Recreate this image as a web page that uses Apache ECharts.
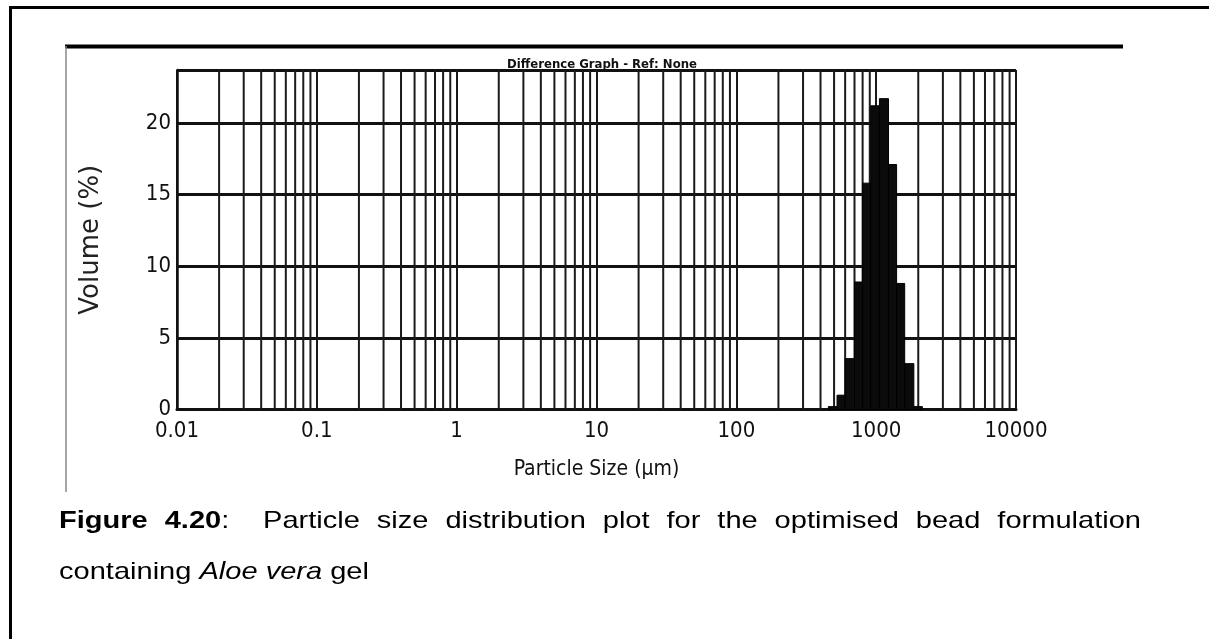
<!DOCTYPE html>
<html><head><meta charset="utf-8">
<script src="https://cdn.jsdelivr.net/npm/echarts@6/dist/echarts.min.js"></script>
<style>html,body{margin:0;padding:0;background:#fff}#c{width:1209px;height:639px}</style>
</head><body><div id="c"></div>
<script>
// ---- data ----
const binEdges = [455, 525, 600, 700, 800, 915, 1055, 1225, 1400, 1600, 1860, 2140]; // µm
const volumes  = [0.2, 1.0, 3.55, 8.9, 15.8, 21.2, 21.7, 17.1, 8.8, 3.2, 0.2];       // %
const xDecades = [0.01, 0.1, 1, 10, 100, 1000, 10000];
const xTickLabels = ['0.01', '0.1', '1', '10', '100', '1000', '10000'];
const yTicks = [0, 5, 10, 15, 20];
const yMax = 23.7;
const chartTitle = 'Difference Graph - Ref: None';
const xName = 'Particle Size (µm)';
const yName = 'Volume (%)';
const captionLine1 = [['Figure','bold',1],['4.20','bold',0],[':','normal',2],['Particle','normal',1],['size','normal',1],['distribution','normal',1],['plot','normal',1],['for','normal',1],['the','normal',1],['optimised','normal',1],['bead','normal',1],['formulation','normal',0]];
const captionLine2 = [['containing','normal',1],['Aloe vera','italic',1],['gel','normal',0]];

// minor grid positions (2..9 within each decade)
const minorGrid = [];
xDecades.slice(0, -1).forEach(d => { for (let m = 2; m <= 9; m++) minorGrid.push(+(d * m).toPrecision(6)); });

const histData = volumes.map((v, i) => [binEdges[i], binEdges[i + 1], v]);

// ---- caption layout ----
const SX = 1.21, CAP_FS = 24, CAP_FONT = '"Liberation Sans", Arial, sans-serif';
const ctx = document.createElement('canvas').getContext('2d');
function fontStr(kind) {
  return (kind === 'bold' ? 'bold ' : kind === 'italic' ? 'italic ' : '') + CAP_FS + 'px ' + CAP_FONT;
}
function layoutLine(tokens, x0, x1, y, justify) {
  ctx.font = fontStr('normal');
  const spaceW = ctx.measureText(' ').width * SX;
  const widths = tokens.map(t => { ctx.font = fontStr(t[1]); return ctx.measureText(t[0]).width * SX; });
  const units = tokens.reduce((s, t) => s + t[2], 0);
  const unitW = justify ? (x1 - x0 - widths.reduce((a, b) => a + b, 0)) / units : spaceW;
  const els = [];
  let x = x0;
  tokens.forEach((t, i) => {
    els.push({
      type: 'text', x: x, y: y, scaleX: SX, scaleY: 1, silent: true,
      style: { text: t[0], x: 0, y: 0, fill: '#000', align: 'left', verticalAlign: 'middle',
        fontFamily: CAP_FONT, fontSize: CAP_FS,
        fontWeight: t[1] === 'bold' ? 'bold' : 'normal',
        fontStyle: t[1] === 'italic' ? 'italic' : 'normal' }
    });
    x += widths[i] + t[2] * unitW;
  });
  return els;
}

const chart = echarts.init(document.getElementById('c'), null, { renderer: 'canvas' });
const axisFont = '"Liberation Sans Narrow", "DejaVu Sans Condensed", sans-serif';

const option = {
  backgroundColor: '#fff',
  animation: false,
  title: {
    text: chartTitle, left: 597, top: 53, textAlign: 'center',
    textStyle: { fontFamily: axisFont, fontWeight: 'bold', fontSize: 13, color: '#111' }
  },
  grid: { left: 177, right: 193, top: 70, bottom: 229.5, containLabel: false },
  xAxis: {
    type: 'log', logBase: 10, min: 0.01, max: 10000, splitNumber: 6,
    name: xName, nameLocation: 'middle', nameGap: 50,
    nameTextStyle: { fontFamily: axisFont, fontSize: 21, color: '#111' },
    axisLine: { show: true, onZero: false, lineStyle: { color: '#111', width: 3 } },
    axisTick: { show: false },
    axisLabel: {
      margin: 11, color: '#111', fontFamily: axisFont, fontSize: 22,
      formatter: v => {
        const i = xDecades.findIndex(d => Math.abs(Math.log10(d) - Math.log10(v)) < 1e-6);
        return i >= 0 ? xTickLabels[i] : '';
      }
    },
    splitLine: { show: true, lineStyle: { color: '#1a1a1a', width: 2 } }
  },
  yAxis: {
    type: 'value', min: 0, max: yMax, interval: 5,
    name: yName, nameLocation: 'middle', nameGap: 73, nameRotate: 90,
    nameTextStyle: { fontFamily: '"DejaVu Sans", Verdana, sans-serif', fontSize: 26, color: '#222' },
    axisLine: { show: true, lineStyle: { color: '#111', width: 2.5 } },
    axisTick: { show: false },
    axisLabel: {
      margin: 6, color: '#111', fontFamily: axisFont, fontSize: 22, padding: [6, 0, 0, 0],
      showMaxLabel: false,
      formatter: v => (yTicks.indexOf(v) >= 0 ? String(v) : '')
    },
    splitLine: { show: true, lineStyle: { color: '#111', width: 3 } }
  },
  series: [
    {
      type: 'custom', name: 'minor grid', silent: true, z: 1,
      data: minorGrid.map(v => [v, 0]),
      encode: { x: 0, y: 1 },
      renderItem: (params, api) => {
        const cs = params.coordSys;
        const p = api.coord([api.value(0), 0]);
        return { type: 'line', shape: { x1: p[0], y1: cs.y, x2: p[0], y2: cs.y + cs.height },
          style: { stroke: '#1a1a1a', lineWidth: 2 } };
      }
    },
    {
      type: 'custom', name: 'Volume', silent: true, z: 3,
      data: histData,
      encode: { x: [0, 1], y: 2 },
      renderItem: (params, api) => {
        const p1 = api.coord([api.value(0), api.value(2)]);
        const p2 = api.coord([api.value(1), 0]);
        return { type: 'rect', shape: { x: p1[0], y: p1[1], width: p2[0] - p1[0], height: p2[1] - p1[1] },
          style: { fill: '#0b0b0b', stroke: '#000', lineWidth: 1 } };
      }
    }
  ],
  graphic: [
    // outer page frame
    { type: 'line', silent: true, shape: { x1: 10, y1: 7.5, x2: 1209, y2: 7.5 }, style: { stroke: '#000', lineWidth: 3 } },
    { type: 'line', silent: true, shape: { x1: 10.5, y1: 6, x2: 10.5, y2: 639 }, style: { stroke: '#000', lineWidth: 3 } },
    // scanned chart image frame
    { type: 'line', silent: true, shape: { x1: 65, y1: 46.5, x2: 1123, y2: 46.5 }, style: { stroke: '#000', lineWidth: 4 } },
    { type: 'line', silent: true, shape: { x1: 66, y1: 46, x2: 66, y2: 492 }, style: { stroke: '#888', lineWidth: 1.5 } }
  ].concat(layoutLine(captionLine1, 59, 1141, 521, true))
   .concat(layoutLine(captionLine2, 59, 0, 572, false))
};
chart.setOption(option);
</script>
</body></html>
